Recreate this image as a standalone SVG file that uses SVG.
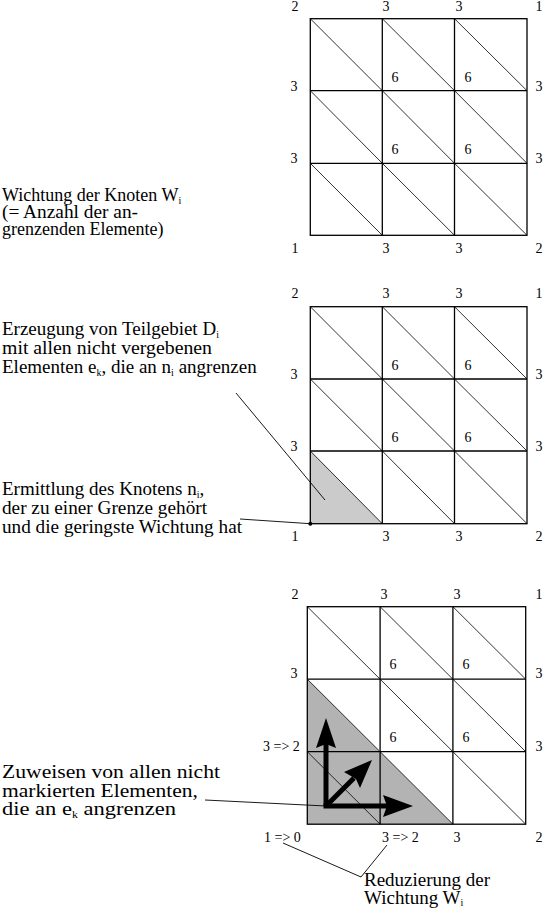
<svg xmlns="http://www.w3.org/2000/svg" width="543" height="908" viewBox="0 0 543 908">
<defs>
<style>
.g{fill:none;stroke:#000;stroke-width:1.3}
.d{stroke:#000;stroke-width:0.8}
.n{font-family:"Liberation Serif","Times New Roman",serif;font-size:14px;fill:#000}
.m{text-anchor:middle}
.t{font-family:"Liberation Serif","Times New Roman",serif;font-size:19px;fill:#000}
.t1{font-size:18px}
.s{font-size:10px}
.l{fill:none;stroke:#000;stroke-width:0.9}
.ar{stroke:#000;stroke-width:5;fill:none}
</style>
</defs>
<rect width="543" height="908" fill="#fff"/>

<g id="grid1">
<g class="d">
<line x1="310.3" y1="18.7" x2="382.3" y2="90.7"/><line x1="382.3" y1="18.7" x2="454.5" y2="90.7"/><line x1="454.5" y1="18.7" x2="527" y2="90.7"/>
<line x1="310.3" y1="90.7" x2="382.3" y2="163.3"/><line x1="382.3" y1="90.7" x2="454.5" y2="163.3"/><line x1="454.5" y1="90.7" x2="527" y2="163.3"/>
<line x1="310.3" y1="163.3" x2="382.3" y2="235.3"/><line x1="382.3" y1="163.3" x2="454.5" y2="235.3"/><line x1="454.5" y1="163.3" x2="527" y2="235.3"/>
</g>
<rect class="g" x="310.3" y="18.7" width="216.7" height="216.6"/>
<path class="g" d="M382.3 18.7V235.3M454.5 18.7V235.3M310.3 90.7H527M310.3 163.3H527"/>
<g class="n m">
<text x="295" y="11">2</text><text x="386" y="11">3</text><text x="459" y="11">3</text><text x="539" y="11">1</text>
<text x="294" y="91">3</text><text x="294" y="163">3</text><text x="539" y="91">3</text><text x="539" y="163">3</text>
<text x="295" y="253">1</text><text x="386" y="253">3</text><text x="459" y="253">3</text><text x="539" y="253">2</text>
<text x="395" y="82">6</text><text x="468" y="82">6</text><text x="395" y="154">6</text><text x="468" y="154">6</text>
</g>
</g>

<g id="grid2">
<polygon points="310.3,451 310.3,523.7 382.3,523.7" fill="#cbcbcb"/>
<g class="d">
<line x1="310.3" y1="306.7" x2="382.3" y2="379"/><line x1="382.3" y1="306.7" x2="454.5" y2="379"/><line x1="454.5" y1="306.7" x2="527" y2="379"/>
<line x1="310.3" y1="379" x2="382.3" y2="451"/><line x1="382.3" y1="379" x2="454.5" y2="451"/><line x1="454.5" y1="379" x2="527" y2="451"/>
<line x1="310.3" y1="451" x2="382.3" y2="523.7"/><line x1="382.3" y1="451" x2="454.5" y2="523.7"/><line x1="454.5" y1="451" x2="527" y2="523.7"/>
</g>
<rect class="g" x="310.3" y="306.7" width="216.7" height="217"/>
<path class="g" d="M382.3 306.7V523.7M454.5 306.7V523.7M310.3 379H527M310.3 451H527"/>
<circle cx="310.3" cy="523.7" r="2" fill="#000"/>
<g class="n m">
<text x="295" y="298">2</text><text x="386" y="298">3</text><text x="459" y="298">3</text><text x="539" y="298">1</text>
<text x="294" y="379">3</text><text x="294" y="451">3</text><text x="539" y="379">3</text><text x="539" y="451">3</text>
<text x="295" y="541">1</text><text x="386" y="541">3</text><text x="459" y="541">3</text><text x="539" y="541">2</text>
<text x="395" y="370">6</text><text x="468" y="370">6</text><text x="395" y="442">6</text><text x="468" y="442">6</text>
</g>
</g>

<g id="grid3">
<polygon points="307.3,679.2 307.3,824.2 452.9,824.2" fill="#b3b3b3"/>
<g class="d">
<line x1="307.3" y1="606.7" x2="380.1" y2="679.2"/><line x1="380.1" y1="606.7" x2="452.9" y2="679.2"/><line x1="452.9" y1="606.7" x2="525.7" y2="679.2"/>
<line x1="307.3" y1="679.2" x2="380.1" y2="751.7"/><line x1="380.1" y1="679.2" x2="452.9" y2="751.7"/><line x1="452.9" y1="679.2" x2="525.7" y2="751.7"/>
<line x1="307.3" y1="751.7" x2="380.1" y2="824.2"/><line x1="380.1" y1="751.7" x2="452.9" y2="824.2"/><line x1="452.9" y1="751.7" x2="525.7" y2="824.2"/>
</g>
<rect class="g" x="307.3" y="606.7" width="218.4" height="217.5"/>
<path class="g" d="M380.1 606.7V824.2M452.9 606.7V824.2M307.3 679.2H525.7M307.3 751.7H525.7"/>
<g class="n m">
<text x="295" y="599">2</text><text x="384" y="599">3</text><text x="457" y="599">3</text><text x="539" y="599">1</text>
<text x="294" y="678">3</text><text x="539" y="678">3</text><text x="539" y="751">3</text>
<text x="457" y="842">3</text><text x="539" y="842">2</text>
<text x="393" y="669">6</text><text x="466" y="669">6</text><text x="393" y="742">6</text><text x="466" y="742">6</text>
</g>
<g class="n">
<text x="263" y="751">3 =&gt; 2</text>
<text x="264" y="842">1 =&gt; 0</text>
<text x="382" y="842">3 =&gt; 2</text>
</g>
</g>

<g id="arrows">
<line class="ar" x1="326" y1="806" x2="326" y2="744"/>
<polygon points="326,718 336,748 326,744 316,748"/>
<line class="ar" x1="323.5" y1="806" x2="388" y2="806"/>
<polygon points="413,806 383,817 387,806 383,795"/>
<line class="ar" x1="326" y1="806" x2="354" y2="778"/>
<polygon points="372,760 360,788 356,779 344,772"/>
</g>

<g id="connectors">
<line class="l" x1="236" y1="393" x2="325" y2="500"/>
<line class="l" x1="240" y1="519" x2="310" y2="523.7"/>
<line class="l" x1="205" y1="800" x2="326" y2="806"/>
<line class="l" x1="283" y1="843" x2="361" y2="877"/>
<line class="l" x1="387" y1="845" x2="361" y2="877"/>
</g>

<g id="label1" class="t t1">
<text x="2" y="201">Wichtung der Knoten W<tspan class="s" dy="3">i</tspan></text>
<text x="2" y="218" textLength="136" lengthAdjust="spacingAndGlyphs">(= Anzahl der an-</text>
<text x="2" y="235">grenzenden Elemente)</text>
</g>
<g id="label2" class="t">
<text x="2" y="335">Erzeugung von Teilgebiet D<tspan class="s" dy="3">i</tspan></text>
<text x="2" y="354" textLength="210" lengthAdjust="spacingAndGlyphs">mit allen nicht vergebenen</text>
<text x="2" y="373">Elementen e<tspan class="s" dy="3">k</tspan><tspan dy="-3">, die an n</tspan><tspan class="s" dy="3">i</tspan><tspan dy="-3"> angrenzen</tspan></text>
</g>
<g id="label3" class="t">
<text x="2" y="495">Ermittlung des Knotens n<tspan class="s" dy="3">i</tspan><tspan dy="-3">,</tspan></text>
<text x="2" y="514" textLength="205" lengthAdjust="spacingAndGlyphs">der zu einer Grenze gehört</text>
<text x="2" y="533" textLength="240" lengthAdjust="spacingAndGlyphs">und die geringste Wichtung hat</text>
</g>
<g id="label4" class="t">
<text x="2" y="778" textLength="218" lengthAdjust="spacingAndGlyphs">Zuweisen von allen nicht</text>
<text x="2" y="797" textLength="196" lengthAdjust="spacingAndGlyphs">markierten Elementen,</text>
<text x="2" y="815" textLength="174" lengthAdjust="spacingAndGlyphs">die an e<tspan class="s" dy="3">k</tspan><tspan dy="-3"> angrenzen</tspan></text>
</g>
<g id="label5" class="t">
<text x="364" y="886">Reduzierung der</text>
<text x="364" y="904">Wichtung W<tspan class="s" dy="2">i</tspan></text>
</g>
</svg>
